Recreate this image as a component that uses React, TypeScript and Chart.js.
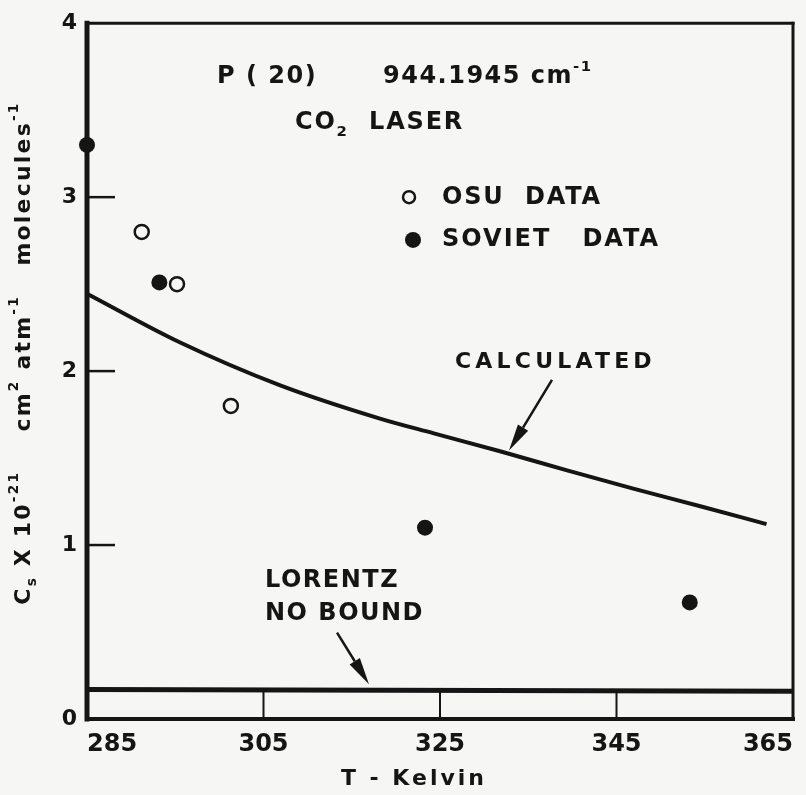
import React, { useEffect, useRef } from 'react';
import { Chart, registerables } from 'chart.js';

Chart.register(...registerables);

// ---- data ----
const X_TICKS = [285, 305, 325, 345, 365];
const Y_TICKS = [0, 1, 2, 3, 4];

const calcT = [285, 295.5, 306.9, 318.2, 324.3, 331.8, 339.4, 346.9, 354.5, 362];
const calcV = [2.445, 2.166, 1.918, 1.727, 1.642, 1.539, 1.429, 1.324, 1.223, 1.12];

const lorentzT = [285, 365];
const lorentzV = [0.17, 0.16];

const osuT = [291.2, 295.2, 301.3];
const osuV = [2.8, 2.5, 1.8];

const sovietT = [285, 293.2, 323.3, 353.3];
const sovietV = [3.3, 2.51, 1.1, 0.67];

// ---- style ----
const INK = '#151515';
const PAPER = '#f6f6f4';
const FONT = '"DejaVu Sans", sans-serif';

type Seg = [string, number?]; // 0 normal, -1 subscript, 1 superscript

function segFont(size: number, kind: number) {
  const s = kind ? size * 0.62 : size;
  return `bold ${s}px ${FONT}`;
}

function segsWidth(ctx: CanvasRenderingContext2D, segs: Seg[], size: number, sp: number) {
  let w = 0;
  for (const [t, k = 0] of segs) {
    ctx.font = segFont(size, k);
    (ctx as any).letterSpacing = `${sp}px`;
    w += ctx.measureText(t).width;
  }
  return w;
}

function drawSegs(ctx: CanvasRenderingContext2D, segs: Seg[], x: number, y: number, size: number, sp: number) {
  let cx = x;
  ctx.textBaseline = 'middle';
  ctx.textAlign = 'left';
  for (const [t, k = 0] of segs) {
    ctx.font = segFont(size, k);
    (ctx as any).letterSpacing = `${sp}px`;
    const dy = k === -1 ? size * 0.38 : k === 1 ? -size * 0.42 : 0;
    ctx.fillText(t, cx, y + dy);
    cx += ctx.measureText(t).width;
  }
}

function arrow(ctx: CanvasRenderingContext2D, x1: number, y1: number, x2: number, y2: number) {
  const ang = Math.atan2(y2 - y1, x2 - x1);
  const head = 27;
  const hw = 6;
  const bx = x2 - head * Math.cos(ang);
  const by = y2 - head * Math.sin(ang);
  ctx.beginPath();
  ctx.moveTo(x1, y1);
  ctx.lineTo(bx, by);
  ctx.lineWidth = 2.5;
  ctx.stroke();
  ctx.beginPath();
  ctx.moveTo(x2, y2);
  ctx.lineTo(bx + hw * Math.sin(ang), by - hw * Math.cos(ang));
  ctx.lineTo(bx - hw * Math.sin(ang), by + hw * Math.cos(ang));
  ctx.closePath();
  ctx.fill();
}

interface Label { segs: Seg[]; t: number; v: number; size: number; sp: number; }

const LABELS: Label[] = [
  { segs: [['P ( 20)']], t: 299.73, v: 3.691, size: 24, sp: 1.5 },
  { segs: [['944.1945 cm'], ['-1', 1]], t: 318.54, v: 3.691, size: 24, sp: 1.5 },
  { segs: [['CO'], ['2', -1], ['  LASER']], t: 308.57, v: 3.429, size: 24, sp: 1.8 },
  { segs: [['OSU  DATA']], t: 325.23, v: 2.994, size: 24, sp: 1.8 },
  { segs: [['SOVIET   DATA']], t: 325.23, v: 2.754, size: 24, sp: 2 },
  { segs: [['CALCULATED']], t: 326.7, v: 2.051, size: 22, sp: 4.2 },
  { segs: [['LORENTZ']], t: 305.17, v: 0.794, size: 24, sp: 1.5 },
  { segs: [['NO BOUND']], t: 305.17, v: 0.606, size: 24, sp: 1.5 },
];

const Y_TITLE: Seg[] = [
  ['C'], ['s', -1], [' X 10'], ['-21', 1], ['    cm'], ['2', 1], [' atm'], ['-1', 1], ['   molecules'], ['-1', 1],
];

export default function App() {
  const ref = useRef<HTMLCanvasElement>(null);

  useEffect(() => {
    const canvas = ref.current;
    if (!canvas) return;
    const pts = (xs: number[], ys: number[]) => xs.map((x, i) => ({ x, y: ys[i] }));

    const paperPlugin = {
      id: 'paper',
      beforeDraw(chart: any) {
        const { ctx, width, height } = chart;
        ctx.save();
        ctx.fillStyle = PAPER;
        ctx.fillRect(0, 0, width, height);
        ctx.restore();
      },
    };

    const framePlugin = {
      id: 'frame',
      beforeDatasetsDraw(chart: any) {
        const { ctx, chartArea: a, scales } = chart;
        const xs = scales.x;
        const ys = scales.y;
        ctx.save();
        ctx.strokeStyle = INK;
        ctx.lineCap = 'square';
        const line = (x1: number, y1: number, x2: number, y2: number, w: number) => {
          ctx.beginPath();
          ctx.lineWidth = w;
          ctx.moveTo(x1, y1);
          ctx.lineTo(x2, y2);
          ctx.stroke();
        };
        // plot frame
        line(a.left, a.top, a.left, a.bottom, 5);
        line(a.left, a.top, a.right, a.top, 3);
        line(a.right, a.top, a.right, a.bottom, 3);
        line(a.left, a.bottom, a.right, a.bottom, 4);
        ctx.lineCap = 'butt';
        // inward tick marks
        for (const v of Y_TICKS) {
          if (v === Y_TICKS[0] || v === Y_TICKS[Y_TICKS.length - 1]) continue;
          const y = ys.getPixelForValue(v);
          line(a.left, y, a.left + 28, y, 2.5);
        }
        for (const t of X_TICKS) {
          if (t === X_TICKS[0] || t === X_TICKS[X_TICKS.length - 1]) continue;
          const x = xs.getPixelForValue(t);
          line(x, a.bottom, x, a.bottom - 28, 2);
        }
        ctx.restore();
      },
      afterDraw(chart: any) {
        const { ctx, chartArea: a, scales } = chart;
        const xs = scales.x;
        const ys = scales.y;
        const X = (t: number) => xs.getPixelForValue(t);
        const Y = (v: number) => ys.getPixelForValue(v);
        ctx.save();
        ctx.fillStyle = INK;
        ctx.strokeStyle = INK;
        for (const l of LABELS) drawSegs(ctx, l.segs, X(l.t), Y(l.v), l.size, l.sp);

        // legend markers
        ctx.beginPath();
        ctx.arc(X(321.49), Y(3.0), 6, 0, Math.PI * 2);
        ctx.lineWidth = 2.5;
        ctx.fillStyle = PAPER;
        ctx.fill();
        ctx.stroke();
        ctx.fillStyle = INK;
        ctx.beginPath();
        ctx.arc(X(321.94), Y(2.754), 8, 0, Math.PI * 2);
        ctx.fill();

        // arrows
        arrow(ctx, X(337.69), Y(1.949), X(332.82), Y(1.543));
        arrow(ctx, X(313.33), Y(0.497), X(316.95), Y(0.2));

        // x title
        const xt: Seg[] = [['T - Kelvin']];
        const w = segsWidth(ctx, xt, 22, 3);
        drawSegs(ctx, xt, X(322.05) - w / 2, Y(-0.349), 22, 3);

        // y title (rotated)
        const yw = segsWidth(ctx, Y_TITLE, 22, 2.2);
        ctx.translate(a.left - 63, (a.top + a.bottom) / 2 - 18);
        ctx.rotate(-Math.PI / 2);
        drawSegs(ctx, Y_TITLE, -yw / 2, 0, 22, 2.2);
        ctx.restore();
      },
    };

    const chart = new Chart(canvas, {
      type: 'scatter',
      data: {
        datasets: [
          {
            label: 'Calculated',
            data: pts(calcT, calcV),
            showLine: true,
            borderColor: INK,
            borderWidth: 4,
            pointRadius: 0,
            cubicInterpolationMode: 'monotone',
          } as any,
          {
            label: 'Lorentz no bound',
            data: pts(lorentzT, lorentzV),
            showLine: true,
            borderColor: INK,
            borderWidth: 5,
            pointRadius: 0,
          },
          {
            label: 'OSU data',
            data: pts(osuT, osuV),
            pointRadius: 7,
            pointBackgroundColor: PAPER,
            pointBorderColor: INK,
            pointBorderWidth: 2.5,
            clip: false,
          } as any,
          {
            label: 'Soviet data',
            data: pts(sovietT, sovietV),
            pointRadius: 8,
            pointBackgroundColor: INK,
            pointBorderColor: INK,
            pointBorderWidth: 0,
            clip: false,
          } as any,
        ],
      },
      options: {
        animation: false,
        responsive: false,
        devicePixelRatio: 1,
        layout: { padding: { top: 18, right: 13, left: 0, bottom: 0 } },
        plugins: { legend: { display: false }, tooltip: { enabled: false } },
        scales: {
          x: {
            type: 'linear',
            min: X_TICKS[0],
            max: X_TICKS[X_TICKS.length - 1],
            afterBuildTicks: (s: any) => {
              s.ticks = X_TICKS.map((value) => ({ value }));
            },
            afterFit: (s: any) => {
              s.height = 76;
            },
            grid: { display: false, drawTicks: false },
            border: { display: false },
            ticks: {
              align: 'inner',
              padding: 11,
              color: INK,
              font: { family: FONT, size: 24, weight: 'bold' },
              maxRotation: 0,
              autoSkip: false,
            },
          },
          y: {
            type: 'linear',
            min: Y_TICKS[0],
            max: Y_TICKS[Y_TICKS.length - 1],
            afterBuildTicks: (s: any) => {
              s.ticks = Y_TICKS.map((value) => ({ value }));
            },
            afterFit: (s: any) => {
              s.width = 87;
            },
            grid: { display: false, drawTicks: false },
            border: { display: false },
            ticks: {
              padding: 10,
              color: INK,
              font: { family: FONT, size: 22, weight: 'bold' },
              autoSkip: false,
            },
          },
        },
      } as any,
      plugins: [paperPlugin, framePlugin],
    });

    return () => chart.destroy();
  }, []);

  return (
    <div style={{ position: 'absolute', left: 0, top: 0, width: 806, height: 795, background: PAPER }}>
      <canvas ref={ref} width={806} height={795} style={{ display: 'block', width: 806, height: 795 }} />
    </div>
  );
}
